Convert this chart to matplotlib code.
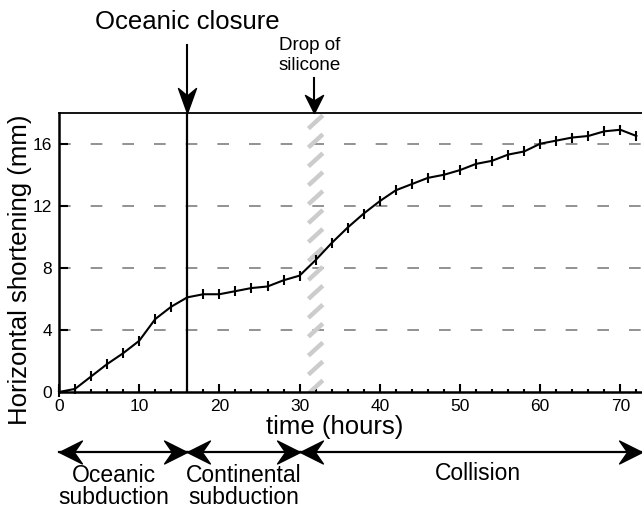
import numpy as np
import matplotlib
matplotlib.use("Agg")
import matplotlib.pyplot as plt
import matplotlib.transforms as mtransforms
from matplotlib.path import Path

plt.rcParams['font.family'] = ['Liberation Sans', 'DejaVu Sans']

# ---- data ----
time_h = [0, 2, 4, 6, 8, 10, 12, 14, 16, 18, 20, 22, 24, 26, 28, 30,
          32, 34, 36, 38, 40, 42, 44, 46, 48, 50, 52, 54, 56, 58, 60,
          62, 64, 66, 68, 70, 72]
shortening_mm = [0.0, 0.2, 1.0, 1.8, 2.5, 3.3, 4.7, 5.5, 6.1, 6.3, 6.3, 6.5,
                 6.7, 6.8, 7.2, 7.5, 8.5, 9.6, 10.6, 11.5, 12.3, 13.0,
                 13.4, 13.8, 14.0, 14.3, 14.7, 14.9, 15.3, 15.5, 16.0,
                 16.2, 16.4, 16.5, 16.8, 16.9, 16.5]
x_ticks = [0, 10, 20, 30, 40, 50, 60, 70]
y_ticks = [0, 4, 8, 12, 16]
closure_time = 16
silicone_time = 31.8
phase_bounds = [0, 16, 30, 72.7]
phase_labels = ["Oceanic\nsubduction", "Continental\nsubduction", "Collision"]

W, H = 642, 514
fig = plt.figure(figsize=(W / 100, H / 100), dpi=100)
ax = fig.add_axes([59 / W, (H - 392) / H, (W - 59) / W, (392 - 112.7) / H])
ax.set_xlim(0, 72.7)
ax.set_ylim(0, 18)
btrans = mtransforms.blended_transform_factory(ax.transData, fig.transFigure)


def head_marker(direction, half_width=0.48, notch=0.62):
    # tip at origin, pointing in 'direction'
    v = np.array([[0, 0], [-1, half_width], [-notch, 0], [-1, -half_width], [0, 0]])
    ang = {'right': 0, 'left': np.pi, 'down': -np.pi / 2, 'up': np.pi / 2}[direction]
    R = np.array([[np.cos(ang), -np.sin(ang)], [np.sin(ang), np.cos(ang)]])
    v = v @ R.T
    codes = [Path.MOVETO, Path.LINETO, Path.LINETO, Path.LINETO, Path.CLOSEPOLY]
    return Path(v, codes)


# gridlines
for yv in y_ticks[1:]:
    ax.axhline(yv, color='#7f7f7f', lw=1.2, dashes=(7, 12), zorder=1)

# silicone band: diagonal grey dashes
for y0 in np.arange(-0.1, 18, 1.22):
    ax.plot([31.1, 32.9], [y0, y0 + 0.85], color='#cccccc', lw=3.2,
            solid_capstyle='butt', zorder=2, clip_on=True)

# closure vertical line
ax.axvline(closure_time, color='black', lw=1.6, zorder=3)

# data
ax.plot(time_h, shortening_mm, color='black', lw=1.5, marker='|',
        markersize=6.5, markeredgewidth=1.5, zorder=4, clip_on=False)

# spines
ax.spines['right'].set_visible(False)
ax.spines['left'].set_linewidth(1.8)
ax.spines['bottom'].set_linewidth(1.8)
ax.spines['top'].set_linewidth(1.3)

ax.set_xticks(x_ticks)
ax.set_xticks(np.arange(0, 73, 2), minor=True)
ax.set_yticks(y_ticks)
ax.tick_params(axis='x', which='major', direction='in', length=5.5, width=1.5,
               labelsize=12.5, pad=5)
ax.tick_params(axis='x', which='minor', direction='in', length=2.5, width=1.5)
ax.tick_params(axis='y', which='major', direction='in', length=6.5, width=1.5,
               labelsize=12.5, pad=5)

# labels
fig.text(20 / W, (H - 270) / H, "Horizontal shortening (mm)", rotation=90,
         fontsize=18.5, ha='center', va='center')
ax.text(34.4, (H - 427) / H, "time (hours)", transform=btrans, fontsize=18.5,
        ha='center', va='center', clip_on=False)

# top annotations
ax.text(16.06, (H - 22) / H, "Oceanic closure", transform=btrans, fontsize=18.5,
        ha='center', va='center', clip_on=False)
ytop = (H - 112.7) / H
ax.plot([closure_time, closure_time], [(H - 45) / H, ytop + 0.02],
        transform=btrans, color='black', lw=1.5, clip_on=False)
ax.plot([closure_time], [ytop], transform=btrans, marker=head_marker('down', 0.36, 0.7),
        markersize=36, color='black', clip_on=False, zorder=5)

ax.text(31.3, (H - 55.5) / H, "Drop of\nsilicone", transform=btrans,
        fontsize=13.5, ha='center', va='center', linespacing=1.3, clip_on=False)
ax.plot([silicone_time, silicone_time], [(H - 78) / H, ytop + 0.02],
        transform=btrans, color='black', lw=1.5, clip_on=False)
ax.plot([silicone_time], [ytop], transform=btrans, marker=head_marker('down', 0.5, 0.7),
        markersize=26, color='black', clip_on=False, zorder=5)

# phase arrows
ya = (H - 452) / H
for a, b in zip(phase_bounds[:-1], phase_bounds[1:]):
    ax.plot([a, b], [ya, ya], transform=btrans, color='black', lw=1.6,
            clip_on=False)
    ax.plot([a], [ya], transform=btrans, marker=head_marker('left', 0.5, 0.65),
            markersize=33, color='black', clip_on=False)
    ax.plot([b], [ya], transform=btrans, marker=head_marker('right', 0.5, 0.65),
            markersize=33, color='black', clip_on=False)

label_x = [6.8, 23.0, 52.2]
label_y = [(H - 486.5) / H, (H - 486.5) / H, (H - 474) / H]
for lx, lyv, lab in zip(label_x, label_y, phase_labels):
    ax.text(lx, lyv, lab, transform=btrans, fontsize=16.5, ha='center',
            va='center', linespacing=1.0, clip_on=False)

fig.savefig("out.png", dpi=100)
